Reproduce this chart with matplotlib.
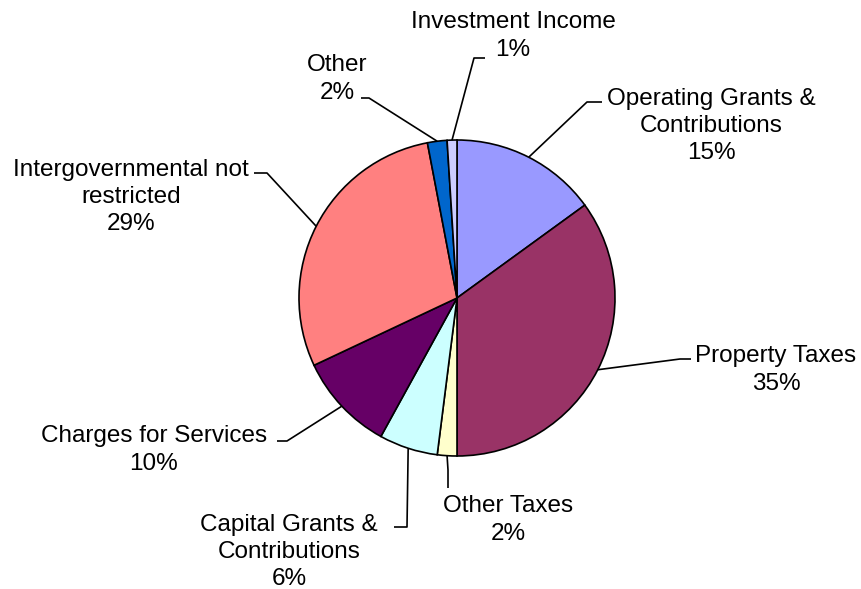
import numpy as np
import matplotlib
matplotlib.use("Agg")
import matplotlib.pyplot as plt

plt.rcParams['font.family'] = ['Liberation Sans', 'DejaVu Sans']

# - - - Data - - - #
labels = ["Operating Grants &\nContributions", "Property Taxes", "Other Taxes",
          "Capital Grants &\nContributions", "Charges for Services",
          "Intergovernmental not\nrestricted", "Other", "Investment Income"]
values = [15, 35, 2, 6, 10, 29, 2, 1]
colors = ["#9999FF", "#993366", "#FFFFCC", "#CCFFFF", "#660066",
          "#FF8080", "#0066CC", "#CCCCFF"]

# - - - Layout (pixel coords, y measured from top) - - - #
W, H = 862, 589
cx, cy, r = 457, 298, 158
text_pos = [(711, 126), (776, 370), (508, 520), (289, 552),
            (154, 450), (131, 197), (337, 79), (513, 36)]
# leader line: elbow point then end point near the label
leaders = [[(587, 102), (602, 102)],
           [(680, 359), (691, 359)],
           [(448, 470), (448, 488)],
           [(407, 527), (394, 527)],
           [(287, 441), (277, 441)],
           [(267, 173), (254, 173)],
           [(369, 98), (361, 98)],
           [(474, 58), (485, 58)]]

fig = plt.figure(figsize=(W / 100, H / 100), dpi=100)
ax = fig.add_axes([0, 0, 1, 1])

ax.pie(values, colors=colors, startangle=90, counterclock=False,
       center=(cx, H - cy), radius=r,
       wedgeprops=dict(edgecolor="black", linewidth=1.2))

total = sum(values)
cum = 0
for lab, v, (tx, ty), pts in zip(labels, values, text_pos, leaders):
    mid = (cum + v / 2) / total * 2 * np.pi
    cum += v
    sx = cx + r * np.sin(mid)
    sy = cy - r * np.cos(mid)
    xs = [sx] + [p[0] for p in pts]
    ys = [H - sy] + [H - p[1] for p in pts]
    ax.plot(xs, ys, color="black", linewidth=1.2, solid_capstyle="butt")
    ax.text(tx, H - ty, f"{lab}\n{v:.0f}%", ha="center", va="center",
            multialignment="center", fontsize=17.5, linespacing=1.32)

ax.set_xlim(0, W)
ax.set_ylim(0, H)
ax.set_aspect("equal")
ax.axis("off")

fig.savefig("out.png", dpi=100)
